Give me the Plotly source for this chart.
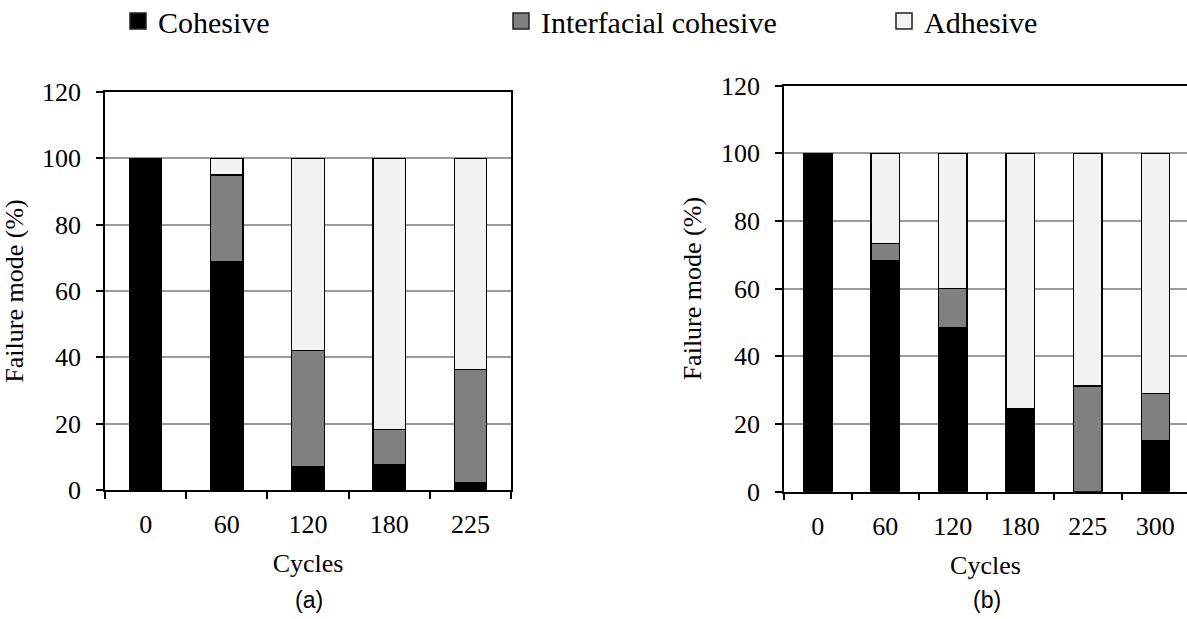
import plotly.graph_objects as go

# ---------------- data ----------------
cycles_a = ["0", "60", "120", "180", "225"]
cohesive_a = [100, 69, 7, 7.7, 2.3]
interfacial_a = [0, 26, 35, 10.5, 34]
adhesive_a = [0, 5, 58, 81.8, 63.7]

cycles_b = ["0", "60", "120", "180", "225", "300"]
cohesive_b = [100, 68.3, 48.6, 24.6, 0, 15]
interfacial_b = [0, 5.1, 11.5, 0, 31.2, 14.1]
adhesive_b = [0, 26.6, 39.9, 75.4, 68.8, 70.9]

series_names = ["Cohesive", "Interfacial cohesive", "Adhesive"]
series_colors = ["#000000", "#808080", "#f2f2f2"]

y_ticks = [0, 20, 40, 60, 80, 100, 120]

SERIF = "Liberation Serif, Times New Roman, serif"
FS = 26

fig = go.Figure()

data_a = [cohesive_a, interfacial_a, adhesive_a]
data_b = [cohesive_b, interfacial_b, adhesive_b]
legend_ids = ["legend", "legend2", "legend3"]

for i, (name, col) in enumerate(zip(series_names, series_colors)):
    fig.add_trace(go.Bar(
        x=cycles_a, y=data_a[i], name=name, legendgroup=name,
        marker=dict(color=col, line=dict(color="#000000", width=1.2)),
        width=0.4, xaxis="x", yaxis="y", showlegend=False,
    ))
    fig.add_trace(go.Bar(
        x=cycles_b, y=data_b[i], name=name, legendgroup=name,
        marker=dict(color=col, line=dict(color="#000000", width=1.2)),
        width=0.42, xaxis="x2", yaxis="y2", showlegend=False,
    ))
    # legend key (no data points)
    fig.add_trace(go.Scatter(
        x=[None], y=[None], mode="markers", name=name, legendgroup=name,
        marker=dict(symbol="square", size=16, color=col,
                    line=dict(color="#222222", width=1.5)),
        xaxis="x", yaxis="y", showlegend=True, legend=legend_ids[i],
        hoverinfo="skip",
    ))

axis_common = dict(
    showline=True, linecolor="#000000", linewidth=1.5,
    ticks="outside", ticklen=7, tickcolor="#000000", tickwidth=1.5,
    tickfont=dict(family=SERIF, size=FS, color="#000000"),
    automargin=False,
)

legend_common = dict(
    orientation="h", xanchor="left", y=1.008, yanchor="top",
    font=dict(family=SERIF, size=30, color="#000000"),
    bgcolor="rgba(0,0,0,0)", itemsizing="trace",
)

fig.update_layout(
    width=1187, height=619,
    margin=dict(l=0, r=0, t=0, b=0, pad=0, autoexpand=False),
    paper_bgcolor="white", plot_bgcolor="white",
    barmode="stack",
    showlegend=True,
    legend=dict(x=118 / 1187, **legend_common),
    legend2=dict(x=501 / 1187, **legend_common),
    legend3=dict(x=884 / 1187, **legend_common),
    xaxis=dict(
        domain=[0.0885, 0.4305], anchor="y", type="category",
        categoryorder="array", categoryarray=cycles_a,
        range=[-0.5, 4.5], mirror=True, tickson="boundaries",
        title=dict(text="Cycles", font=dict(family=SERIF, size=FS, color="#000000"), standoff=16),
        ticklabelstandoff=10,
        **axis_common,
    ),
    yaxis=dict(
        domain=[0.2084, 0.8514], anchor="x", range=[0, 120],
        tickvals=y_ticks, mirror=True,
        showgrid=True, gridcolor="#9a9a9a", gridwidth=1.5,
        title=dict(text="Failure mode (%)", font=dict(family=SERIF, size=FS, color="#000000"), standoff=12),
        ticklabelstandoff=10,
        **axis_common,
    ),
    xaxis2=dict(
        domain=[0.6605, 1.0], anchor="y2", type="category",
        categoryorder="array", categoryarray=cycles_b,
        range=[-0.5, 5.47], mirror=True, tickson="boundaries",
        title=dict(text="Cycles", font=dict(family=SERIF, size=FS, color="#000000"), standoff=16),
        ticklabelstandoff=10,
        **axis_common,
    ),
    yaxis2=dict(
        domain=[0.2057, 0.8617], anchor="x2", range=[0, 120],
        tickvals=y_ticks, mirror=False,
        showgrid=True, gridcolor="#9a9a9a", gridwidth=1.5,
        title=dict(text="Failure mode (%)", font=dict(family=SERIF, size=FS, color="#000000"), standoff=12),
        ticklabelstandoff=10,
        **axis_common,
    ),
    annotations=[
        dict(text="(a)", x=309 / 1187, xref="paper", y=1 - 600 / 619, yref="paper",
             xanchor="center", yanchor="middle", showarrow=False,
             font=dict(family="Liberation Sans, Arial, sans-serif", size=23, color="#000000")),
        dict(text="(b)", x=987 / 1187, xref="paper", y=1 - 600 / 619, yref="paper",
             xanchor="center", yanchor="middle", showarrow=False,
             font=dict(family="Liberation Sans, Arial, sans-serif", size=23, color="#000000")),
    ],
)

fig.write_html(
    "out.html",
    config={"displayModeBar": False},
    post_script="document.body.style.margin='0';document.body.style.overflow='hidden';",
)
